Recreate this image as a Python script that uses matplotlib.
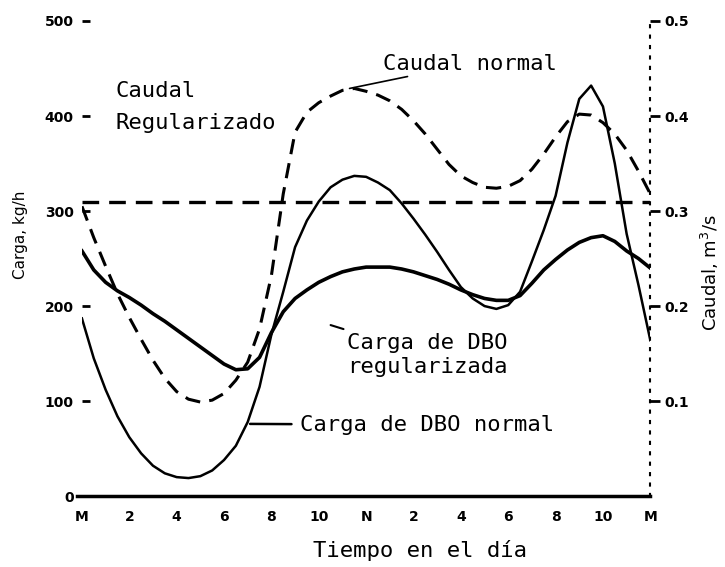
import numpy as np
import matplotlib.pyplot as plt

# horas del día (cada media hora)
horas = np.arange(0, 24.5, 0.5)

# Carga de DBO normal, kg/h
carga_normal = [187, 145, 112, 84, 62, 45, 32, 24, 20, 19, 21, 27, 38, 53, 78, 115,
                170, 215, 262, 290, 310, 325, 333, 337, 336, 330, 322, 308, 292, 275,
                257, 238, 220, 208, 200, 197, 201, 215, 247, 280, 316, 372, 418, 432,
                410, 350, 276, 222, 164]

# Carga de DBO regularizada, kg/h
carga_reg = [258, 238, 225, 216, 209, 201, 192, 184, 175, 166, 157, 148, 139, 133, 134, 146,
             172, 194, 208, 217, 225, 231, 236, 239, 241, 241, 241, 239, 236, 232,
             228, 223, 217, 212, 208, 206, 206, 211, 224, 238, 249, 259, 267, 272,
             274, 268, 258, 250, 240]

# Caudal normal, m3/s
caudal_normal = [0.305, 0.272, 0.242, 0.213, 0.188, 0.165, 0.143, 0.124, 0.110, 0.102,
                 0.099, 0.101, 0.108, 0.122, 0.141, 0.176, 0.232, 0.318, 0.383, 0.404,
                 0.414, 0.421, 0.427, 0.429, 0.426, 0.422, 0.416, 0.407, 0.395, 0.381,
                 0.365, 0.349, 0.337, 0.330, 0.325, 0.324, 0.326, 0.332, 0.344, 0.360,
                 0.378, 0.394, 0.402, 0.401, 0.393, 0.381, 0.364, 0.342, 0.318]

# Caudal regularizado, m3/s
horas_reg = [0, 24]
caudal_reg = [0.31, 0.31]

xticks = [0, 2, 4, 6, 8, 10, 12, 14, 16, 18, 20, 22, 24]
xlabels = ['M', '2', '4', '6', '8', '10', 'N', '2', '4', '6', '8', '10', 'M']
yticks_izq = [0, 100, 200, 300, 400, 500]
yticks_der = [0.1, 0.2, 0.3, 0.4, 0.5]

mono = 'DejaVu Sans Mono'

fig = plt.figure(figsize=(7.25, 5.67), dpi=100)
ax = fig.add_axes([0.113, 0.125, 0.784, 0.838])
ax2 = ax.twinx()

ax.plot(horas, carga_normal, color='black', lw=1.8)
ax.plot(horas, carga_reg, color='black', lw=2.6)
ax2.plot(horas, caudal_normal, color='black', lw=2.2, ls=(0, (5, 3)))
ax2.plot(horas_reg, caudal_reg, color='black', lw=2.4, ls=(0, (5, 3)))

ax.set_xlim(0, 24)
ax.set_ylim(0, 500)
ax2.set_ylim(0, 0.5)

for a in (ax, ax2):
    for s in ('top', 'left', 'right', 'bottom'):
        a.spines[s].set_visible(False)
ax.spines['bottom'].set_visible(True)
ax.spines['bottom'].set_linewidth(2.5)
ax.spines['bottom'].set_bounds(-0.2, 24)
ax2.spines['right'].set_visible(True)
ax2.spines['right'].set_linestyle((0, (1, 4)))
ax2.spines['right'].set_linewidth(1.5)

ax.set_xticks(xticks)
ax.set_xticklabels(xlabels, fontsize=10, fontweight='bold')
ax.tick_params(axis='x', length=0, pad=10)
ax.set_yticks(yticks_izq)
ax.set_yticklabels([str(v) for v in yticks_izq], fontsize=10, fontweight='bold')
ax.tick_params(axis='y', direction='in', length=6, width=2, pad=6)
ax2.set_yticks(yticks_der)
ax2.set_yticklabels(['%.1f' % v for v in yticks_der], fontsize=10, fontweight='bold')
ax2.tick_params(axis='y', direction='out', length=7, width=2, pad=3)

ax.set_ylabel('Carga, kg/h', fontsize=11)
ax.yaxis.set_label_coords(-0.095, 0.55)
ax2.set_ylabel('Caudal, m$^3$/s', fontsize=13)
ax2.yaxis.set_label_coords(1.085, 0.47)
ax.set_xlabel('Tiempo en el día', fontsize=16, family=mono)
ax.xaxis.set_label_coords(0.595, -0.092)

# rótulos de las curvas
ax.text(1.4, 426, 'Caudal', fontsize=16, family=mono, va='center')
ax.text(1.4, 393, 'Regularizado', fontsize=16, family=mono, va='center')
ax.annotate('Caudal normal', xy=(11.3, 429), xytext=(12.7, 455), fontsize=16,
            family=mono, va='center',
            arrowprops=dict(arrowstyle='-', color='black', lw=1.2, shrinkA=0, shrinkB=0))
ax.annotate('Carga de DBO\nregularizada', xy=(10.5, 180), xytext=(11.2, 172),
            fontsize=16, family=mono, va='top', linespacing=1.3,
            arrowprops=dict(arrowstyle='-', color='black', lw=1.5, shrinkA=2, shrinkB=0))
ax.annotate('Carga de DBO normal', xy=(7.1, 76), xytext=(9.2, 75), fontsize=16,
            family=mono, va='center',
            arrowprops=dict(arrowstyle='-', color='black', lw=1.8, shrinkA=4, shrinkB=0))

fig.savefig('out.png', dpi=100)
